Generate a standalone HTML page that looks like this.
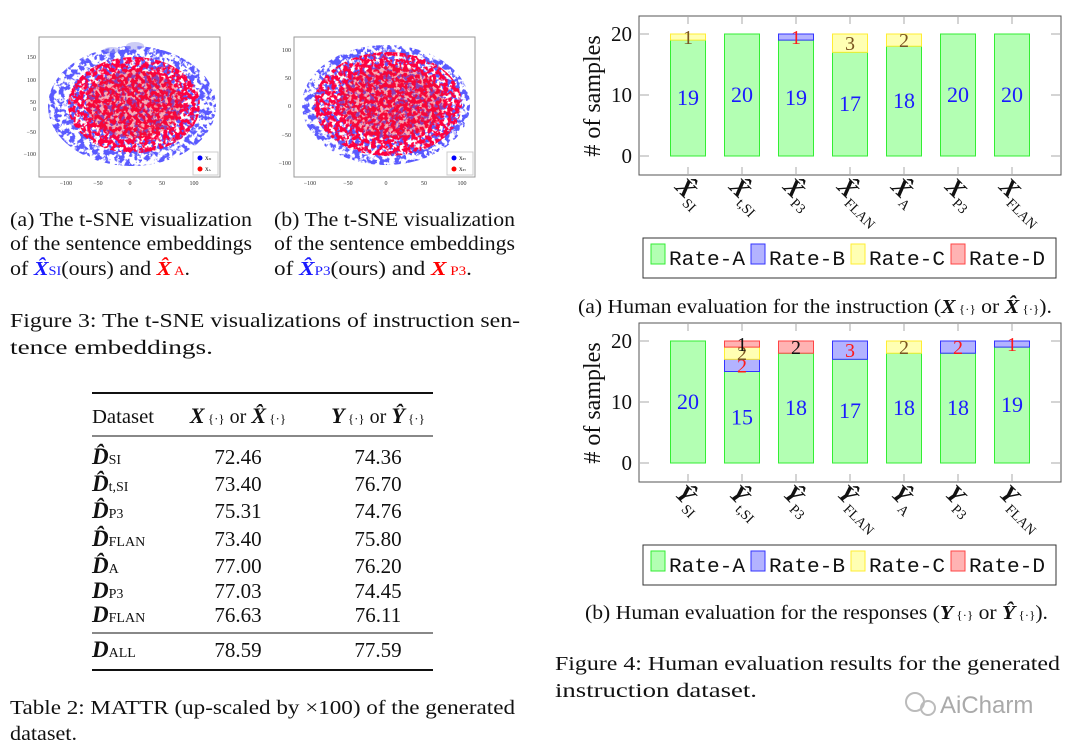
<!DOCTYPE html>
<html><head><meta charset="utf-8"><style>
html,body{margin:0;padding:0;background:#fff;width:1080px;height:749px;overflow:hidden}
svg{display:block;font-family:"Liberation Serif",serif}
.cap{font-size:20px;fill:#111}
.mono{font-family:"Liberation Mono",monospace;font-size:20px;fill:#111}
</style></head><body>
<svg id="root" width="1080" height="749" viewBox="0 0 1080 749">
<defs>
<filter id="spk" x="0" y="0" width="1" height="1"><feTurbulence type="fractalNoise" baseFrequency="0.25" numOctaves="3" seed="3"/><feColorMatrix type="matrix" values="0 0 0 0 1  0 0 0 0 0  0 0 0 0 0.05  0 0 0 10 -4.3"/><feComposite in2="SourceGraphic" operator="in"/></filter>
<filter id="spk2" x="0" y="0" width="1" height="1"><feTurbulence type="fractalNoise" baseFrequency="0.2" numOctaves="3" seed="9"/><feColorMatrix type="matrix" values="0 0 0 0 0.1  0 0 0 0 0.1  0 0 0 0 1  0 0 0 10 -4.6"/><feComposite in2="SourceGraphic" operator="in"/></filter>
</defs>

<g>
<rect x="39" y="37" width="181" height="140" fill="#fff" stroke="#999" stroke-width="1"/>
<ellipse cx="132" cy="106" rx="84" ry="60" fill="#2222ee" filter="url(#spk2)"/>
<ellipse cx="134" cy="105" rx="66" ry="48" fill="#ff0000" filter="url(#spk)"/>
<ellipse cx="134" cy="104" rx="48" ry="34" fill="#e8102a" opacity="0.35"/>
<ellipse cx="112" cy="50" rx="8" ry="3" fill="#9999ee" opacity="0.5"/>
<ellipse cx="135" cy="46" rx="9" ry="4" fill="#9999ee" opacity="0.5"/>
<g font-size="6" fill="#333" text-anchor="end"><text x="36" y="59">150</text><text x="36" y="82">100</text><text x="36" y="104">50</text><text x="36" y="111">0</text><text x="36" y="134">−50</text><text x="36" y="156">−100</text></g>
<g font-size="6" fill="#333" text-anchor="middle"><text x="66" y="185">−100</text><text x="98" y="185">−50</text><text x="130" y="185">0</text><text x="162" y="185">50</text><text x="194" y="185">100</text></g>
<rect x="193" y="152" width="25" height="23" fill="#fff" stroke="#ccc"/>
<circle cx="200" cy="158" r="2.5" fill="blue"/><circle cx="200" cy="169" r="2.5" fill="red"/>
<text x="205" y="160" font-size="5">X<tspan font-size="3">SI</tspan></text><text x="205" y="171" font-size="5">X<tspan font-size="3">A</tspan></text>
</g>
<g>
<rect x="294" y="37" width="181" height="140" fill="#fff" stroke="#999" stroke-width="1"/>
<ellipse cx="386" cy="105" rx="84" ry="60" fill="#2222ee" filter="url(#spk2)"/>
<ellipse cx="388" cy="104" rx="74" ry="52" fill="#ff0000" filter="url(#spk)"/>
<ellipse cx="392" cy="102" rx="52" ry="36" fill="#e8102a" opacity="0.35"/>
<g font-size="6" fill="#333" text-anchor="end"><text x="291" y="52">100</text><text x="291" y="80">50</text><text x="291" y="108">0</text><text x="291" y="137">−50</text><text x="291" y="165">−100</text></g>
<g font-size="6" fill="#333" text-anchor="middle"><text x="310" y="185">−100</text><text x="348" y="185">−50</text><text x="386" y="185">0</text><text x="424" y="185">50</text><text x="462" y="185">100</text></g>
<rect x="447" y="152" width="26" height="23" fill="#fff" stroke="#ccc"/>
<circle cx="454" cy="158" r="2.5" fill="blue"/><circle cx="454" cy="169" r="2.5" fill="red"/>
<text x="459" y="160" font-size="5">X<tspan font-size="3">P3</tspan></text><text x="459" y="171" font-size="5">X<tspan font-size="3">P3</tspan></text>
</g>

<g class="cap">
<text x="10" y="226" textLength="242" lengthAdjust="spacingAndGlyphs">(a) The t-SNE visualization</text>
<text x="10" y="250" textLength="242" lengthAdjust="spacingAndGlyphs">of the sentence embeddings</text>
<text x="10" y="275" textLength="180" lengthAdjust="spacingAndGlyphs">of <tspan font-weight="bold" font-style="italic" fill="#1a1aff">X̂</tspan><tspan font-size="13" fill="#1a1aff">SI</tspan>(ours) and <tspan font-weight="bold" font-style="italic" fill="red">X̂</tspan><tspan font-size="13" fill="red"> A</tspan>.</text>
</g>
<g class="cap">
<text x="274" y="226" textLength="241" lengthAdjust="spacingAndGlyphs">(b) The t-SNE visualization</text>
<text x="274" y="250" textLength="241" lengthAdjust="spacingAndGlyphs">of the sentence embeddings</text>
<text x="274" y="275" textLength="198" lengthAdjust="spacingAndGlyphs">of <tspan font-weight="bold" font-style="italic" fill="#1a1aff">X̂</tspan><tspan font-size="13" fill="#1a1aff">P3</tspan>(ours) and <tspan font-weight="bold" font-style="italic" fill="red">X</tspan><tspan font-size="13" fill="red"> P3</tspan>.</text>
</g>
<g class="cap">
<text x="10" y="327" textLength="510" lengthAdjust="spacingAndGlyphs">Figure 3: The t-SNE visualizations of instruction sen-</text>
<text x="10" y="354" textLength="203" lengthAdjust="spacingAndGlyphs">tence embeddings.</text>
</g>

<g class="cap">
<line x1="92" y1="393" x2="433" y2="393" stroke="#111" stroke-width="2"/>
<text x="92" y="423" textLength="62" lengthAdjust="spacingAndGlyphs">Dataset</text>
<text x="238" y="423" text-anchor="middle"><tspan font-weight="bold" font-style="italic" font-size="22">X</tspan><tspan font-size="13"> {·}</tspan> or <tspan font-weight="bold" font-style="italic" font-size="22">X̂</tspan><tspan font-size="13"> {·}</tspan></text>
<text x="378" y="423" text-anchor="middle"><tspan font-weight="bold" font-style="italic" font-size="22">Y</tspan><tspan font-size="13"> {·}</tspan> or <tspan font-weight="bold" font-style="italic" font-size="22">Ŷ</tspan><tspan font-size="13"> {·}</tspan></text>
<line x1="92" y1="436" x2="433" y2="436" stroke="#111" stroke-width="1"/>
<g id="rows"></g>
<line x1="92" y1="633" x2="433" y2="633" stroke="#111" stroke-width="1"/>
<line x1="92" y1="670" x2="433" y2="670" stroke="#111" stroke-width="2"/>
</g>
<g class="cap">
<text x="10" y="714" textLength="505" lengthAdjust="spacingAndGlyphs">Table 2: MATTR (up-scaled by ×100) of the generated</text>
<text x="10" y="740" textLength="67" lengthAdjust="spacingAndGlyphs">dataset.</text>
</g>

<g id="chartA"></g>
<g id="chartB"></g>

<g class="cap"><text x="578" y="313" textLength="474" lengthAdjust="spacingAndGlyphs">(a) Human evaluation for the instruction (<tspan font-weight="bold" font-style="italic">X</tspan><tspan font-size="12"> {·}</tspan> or <tspan font-weight="bold" font-style="italic">X̂</tspan><tspan font-size="12"> {·}</tspan>).</text></g>
<g class="cap"><text x="585" y="619" textLength="463" lengthAdjust="spacingAndGlyphs">(b) Human evaluation for the responses (<tspan font-weight="bold" font-style="italic">Y</tspan><tspan font-size="12"> {·}</tspan> or <tspan font-weight="bold" font-style="italic">Ŷ</tspan><tspan font-size="12"> {·}</tspan>).</text></g>
<g class="cap">
<text x="555" y="670" textLength="505" lengthAdjust="spacingAndGlyphs">Figure 4: Human evaluation results for the generated</text>
<text x="555" y="697" textLength="202" lengthAdjust="spacingAndGlyphs">instruction dataset.</text>
</g>
<g><circle cx="915" cy="702" r="9" fill="none" stroke="#bbb" stroke-width="2"/><circle cx="928" cy="708" r="7" fill="none" stroke="#bbb" stroke-width="2"/><text x="940" y="713" font-family="Liberation Sans,sans-serif" font-size="24" fill="#aaa">AiCharm</text></g>
</svg>
<script>
var NS='http://www.w3.org/2000/svg';
var tableNames=['D̂|SI','D̂|t,SI','D̂|P3','D̂|FLAN','D̂|A','D|P3','D|FLAN'];
var tableX=['72.46','73.40','75.31','73.40','77.00','77.03','76.63'];
var tableY=['74.36','76.70','74.76','75.80','76.20','74.45','76.11'];
var categoriesA=['X̂|SI','X̂|t,SI','X̂|P3','X̂|FLAN','X̂|A','X|P3','X|FLAN'];
var rateA1=[19,20,19,17,18,20,20];
var rateB1=[0,0,1,0,0,0,0];
var rateC1=[1,0,0,3,2,0,0];
var rateD1=[0,0,0,0,0,0,0];
var categoriesB=['Ŷ|SI','Ŷ|t,SI','Ŷ|P3','Ŷ|FLAN','Ŷ|A','Y|P3','Y|FLAN'];
var rateA2=[20,15,18,17,18,18,19];
var rateB2=[0,2,0,3,0,2,1];
var rateC2=[0,2,0,0,2,0,0];
var rateD2=[0,1,2,0,0,0,0];
var yTicks=[0,10,20];
var legendLabels=['Rate-A','Rate-B','Rate-C','Rate-D'];

function mk(tag,attrs,parent){var e=document.createElementNS(NS,tag);for(var k in attrs)e.setAttribute(k,attrs[k]);parent.appendChild(e);return e;}

var rows=document.getElementById('rows');
var rowY=[464,491,518,546,573,598,622];
function addRow(name,xv,yv,y){
  var p=name.split('|');
  var t=mk('text',{x:92,y:y},rows);
  
  
  var s1=mk('tspan',{'font-weight':'bold','font-style':'italic','font-size':'23'},t);s1.textContent=p[0];
  var s2=mk('tspan',{'font-size':'14'},t);s2.textContent=p[1];
  var a=mk('text',{x:238,y:y,'text-anchor':'middle','font-size':'21'},rows);a.textContent=xv;
  
  
  var b=mk('text',{x:378,y:y,'text-anchor':'middle','font-size':'21'},rows);b.textContent=yv;
  
  
}
for(var i=0;i<tableNames.length;i++)addRow(tableNames[i],tableX[i],tableY[i],rowY[i]);
addRow('D|ALL','78.59','77.59',657);

var fills=['#b3ffb3','#b3b3ff','#ffffb3','#ffb3b3'];
var strokes=['#33ee33','#3333ff','#ffee33','#ff4444'];
var lblColors=['#1a1aff','#ff1a1a','#7a5520','#111'];

function drawChart(g,top,cats,series){
  var L=639,R=1061,B=top+159,y0=top+140,k=6.1;
  function ys(v){return y0-v*k;}
  var step=54,x0=688,bw=35;
  function xs(i){return x0+i*step;}
  mk('rect',{x:L,y:top,width:R-L,height:B-top,fill:'#fff',stroke:'#555','stroke-width':1},g);
  yTicks.forEach(function(t){
    mk('line',{x1:L,y1:ys(t),x2:L+10,y2:ys(t),stroke:'#aaa'},g);
    mk('line',{x1:R-10,y1:ys(t),x2:R,y2:ys(t),stroke:'#aaa'},g);
    var tx=mk('text',{x:632,y:ys(t)+7,'text-anchor':'end','font-size':'21',fill:'#111'},g);tx.textContent=t;
    
    
  });
  var yl=mk('text',{transform:'translate(600,'+(top+80)+') rotate(-90)','text-anchor':'middle','font-size':'24',fill:'#111'},g);
  yl.textContent='# of samples';
  
  
  cats.forEach(function(c,i){
    var x=xs(i);
    mk('line',{x1:x,y1:top,x2:x,y2:top+8,stroke:'#aaa'},g);
    mk('line',{x1:x,y1:B-8,x2:x,y2:B,stroke:'#aaa'},g);
    var cum=0;
    for(var s=0;s<4;s++){
      var v=series[s][i];if(!v)continue;
      var r=mk('rect',{x:x-bw/2,y:ys(cum+v),width:bw,height:v*k,fill:fills[s],stroke:strokes[s],'stroke-width':1},g);
      
      
      var lt=mk('text',{x:x,y:ys(cum+v/2)+7,'text-anchor':'middle','font-size':s==0?'22':'20',fill:lblColors[s]},g);
      lt.textContent=v;
      
      
      cum+=v;
    }
    var p=c.split('|');
    var xl=mk('text',{transform:'translate('+(x-14)+','+(B+13)+') rotate(45)',fill:'#111'},g);
    
    
    var t1=mk('tspan',{'font-weight':'bold','font-style':'italic','font-size':'25'},xl);t1.textContent=p[0];
    var t2=mk('tspan',{'font-size':'14',dy:'6'},xl);t2.textContent=p[1];
  });
  var ly=B+63;
  var lg=mk('g',{},g);
  
  
  mk('rect',{x:643,y:ly,width:413,height:40,fill:'#fff',stroke:'#333','stroke-width':1},lg);
  legendLabels.forEach(function(l,s){
    var lx=651+s*100;
    mk('rect',{x:lx,y:ly+6,width:14,height:20,fill:fills[s],stroke:strokes[s]},lg);
    var lt=mk('text',{x:lx+18,y:ly+27,'class':'mono',textLength:76,lengthAdjust:'spacingAndGlyphs'},lg);lt.textContent=l;
    
    
  });
}
drawChart(document.getElementById('chartA'),16,categoriesA,[rateA1,rateB1,rateC1,rateD1]);
drawChart(document.getElementById('chartB'),323,categoriesB,[rateA2,rateB2,rateC2,rateD2]);
</script>
</body></html>
